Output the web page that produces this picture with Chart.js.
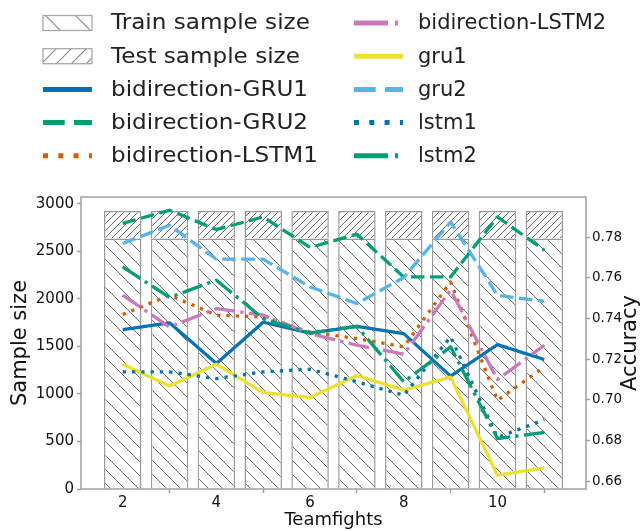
<!DOCTYPE html>
<html><head><meta charset="utf-8">
<script src="https://cdn.jsdelivr.net/npm/chart.js@4/dist/chart.umd.min.js"></script>
<style>html,body{margin:0;padding:0;background:#fff;}canvas{display:block;}</style>
</head><body>
<canvas id="c" width="642" height="531"></canvas>
<script>
// ---- data ----
const teamfights = [2, 3, 4, 5, 6, 7, 8, 9, 10, 11];
const trainSampleSize = [2634, 2634, 2634, 2634, 2634, 2634, 2634, 2634, 2634, 2634];
const testSampleSize = [290, 290, 290, 290, 290, 290, 290, 290, 290, 290];
const biGRU1 = [0.7346, 0.7379, 0.7179, 0.7382, 0.7329, 0.7362, 0.7326, 0.7117, 0.7272, 0.7199];
const biGRU2 = [0.7868, 0.7933, 0.7838, 0.7900, 0.7750, 0.7815, 0.7605, 0.7605, 0.7900, 0.7736];
const biLSTM1 = [0.7420, 0.7515, 0.7417, 0.7408, 0.7334, 0.7302, 0.7261, 0.7580, 0.6998, 0.7162];
const biLSTM2 = [0.7515, 0.7359, 0.7449, 0.7417, 0.7326, 0.7269, 0.7225, 0.7540, 0.7100, 0.7269];
const gru1 = [0.7176, 0.7069, 0.7176, 0.7036, 0.7012, 0.7120, 0.7048, 0.7112, 0.6630, 0.6666];
const gru2 = [0.7769, 0.7859, 0.7692, 0.7692, 0.7556, 0.7474, 0.7602, 0.7875, 0.7515, 0.7485];
const lstm1 = [0.7138, 0.7138, 0.7105, 0.7138, 0.7151, 0.7089, 0.7023, 0.7310, 0.6815, 0.6903];
const lstm2 = [0.7654, 0.7504, 0.7589, 0.7400, 0.7329, 0.7362, 0.7089, 0.7261, 0.6810, 0.6840];
const sampleTicks = [0, 500, 1000, 1500, 2000, 2500, 3000];
const accuracyTicks = [0.66, 0.68, 0.70, 0.72, 0.74, 0.76, 0.78];
const xTicks = [2, 4, 6, 8, 10];

// ---- styles ----
const FONT = "'DejaVu Sans', sans-serif";
const plotDash = {solid: [], dashed: [13.5, 5.5], dotted: [3.3, 6], dashdot: [21, 5.3, 3.3, 5.3]};
const legendDash = {solid: [], dashed: [21.7, 9.3], dotted: [5, 10.3], dashdot: [34, 7, 3, 7]};
const series = [
  {label: 'bidirection-GRU1', data: biGRU1, color: '#0173B2', dash: 'solid'},
  {label: 'bidirection-GRU2', data: biGRU2, color: '#029E73', dash: 'dashed'},
  {label: 'bidirection-LSTM1', data: biLSTM1, color: '#D55E00', dash: 'dotted'},
  {label: 'bidirection-LSTM2', data: biLSTM2, color: '#CC78BC', dash: 'dashdot'},
  {label: 'gru1', data: gru1, color: '#ECE133', dash: 'solid'},
  {label: 'gru2', data: gru2, color: '#56B4E9', dash: 'dashed'},
  {label: 'lstm1', data: lstm1, color: '#0173B2', dash: 'dotted'},
  {label: 'lstm2', data: lstm2, color: '#029E73', dash: 'dashdot'}
];

const ctx = document.getElementById('c').getContext('2d');
function hatch(size, dir, color, lw) {
  const c = document.createElement('canvas');
  c.width = size; c.height = size;
  const g = c.getContext('2d');
  g.fillStyle = '#fff'; g.fillRect(0, 0, size, size);
  g.strokeStyle = color; g.lineWidth = lw;
  g.beginPath();
  for (let k = -1; k <= 1; k++) {
    if (dir === 'back') { g.moveTo(k * size, 0); g.lineTo(k * size + size, size); }
    else { g.moveTo(k * size, size); g.lineTo(k * size + size, 0); }
  }
  g.stroke();
  return ctx.createPattern(c, 'repeat');
}
const trainPattern = hatch(14, 'back', '#6a6a6a', 1);
const testPattern = hatch(7, 'fwd', '#6a6a6a', 1);
const trainLegendPattern = hatch(30, 'back', '#8a8a8a', 1.2);
const testLegendPattern = hatch(15, 'fwd', '#8a8a8a', 1.2);

const datasets = [
  {type: 'bar', label: 'Train sample size', data: teamfights.map((x, i) => ({x, y: trainSampleSize[i]})),
   backgroundColor: trainPattern, borderColor: '#9a9a9a', borderWidth: 1.5, yAxisID: 'y', stack: 's', order: 100,
   legendPattern: trainLegendPattern},
  {type: 'bar', label: 'Test sample size', data: teamfights.map((x, i) => ({x, y: testSampleSize[i]})),
   backgroundColor: testPattern, borderColor: '#9a9a9a', borderWidth: 1.5, yAxisID: 'y', stack: 's', order: 101,
   legendPattern: testLegendPattern}
];
series.forEach((s, i) => {
  datasets.push({
    type: 'line', label: s.label, data: teamfights.map((x, j) => ({x, y: s.data[j]})),
    borderColor: s.color, backgroundColor: s.color, borderWidth: 3.3, borderDash: plotDash[s.dash],
    borderJoinStyle: 'round', pointRadius: 0, tension: 0, fill: false, yAxisID: 'y1', order: 50 - i,
    dashType: s.dash
  });
});

const legendPlugin = {
  id: 'mplLegend',
  afterDraw(chart) {
    const c = chart.ctx;
    const ds = chart.data.datasets;
    const rowY0 = 23, rowH = 33.2;
    const cols = [{h0: 43, h1: 92, tx: 111, sx: 1.1}, {h0: 354, h1: 403, tx: 418, sx: 1.0}];
    c.save();
    ds.forEach((d, i) => {
      const col = cols[Math.floor(i / 5)];
      const y = rowY0 + (i % 5) * rowH;
      if (d.type === 'bar') {
        c.fillStyle = d.legendPattern;
        c.fillRect(col.h0, y - 7.5, col.h1 - col.h0, 15);
        c.strokeStyle = '#a8a8a8'; c.lineWidth = 1.3; c.setLineDash([]);
        c.strokeRect(col.h0, y - 7.5, col.h1 - col.h0, 15);
      } else {
        c.strokeStyle = d.borderColor; c.lineWidth = 5; c.lineCap = 'butt';
        c.setLineDash(legendDash[d.dashType]);
        c.beginPath(); c.moveTo(col.h0, y); c.lineTo(col.h1, y); c.stroke();
      }
      c.setLineDash([]);
      c.save();
      c.translate(col.tx, y + 1); c.scale(col.sx, 1);
      c.fillStyle = '#222'; c.font = '21px ' + FONT;
      c.textAlign = 'left'; c.textBaseline = 'middle';
      c.fillText(d.label, 0, 0);
      c.restore();
    });
    // right axis title
    c.translate(631, 343); c.rotate(-Math.PI / 2);
    c.fillStyle = '#111'; c.font = '21px ' + FONT; c.textAlign = 'center'; c.textBaseline = 'middle';
    c.fillText('Accuracy', 0, 0);
    c.restore();
  },
  afterDatasetsDraw(chart) {
    const a = chart.chartArea, c = chart.ctx;
    c.save();
    c.strokeStyle = '#a0a0a0'; c.lineWidth = 1.5; c.setLineDash([]);
    c.strokeRect(a.left, a.top, a.right - a.left, a.bottom - a.top);
    c.restore();
  }
};

const tickFont = {family: FONT, size: 15};
new Chart(ctx, {
  type: 'bar',
  data: {datasets},
  plugins: [legendPlugin],
  options: {
    responsive: false, animation: false, devicePixelRatio: 1,
    layout: {padding: {top: 197, left: 0, right: 0, bottom: 0}},
    plugins: {legend: {display: false}, tooltip: {enabled: false}},
    datasets: {bar: {categoryPercentage: 0.8, barPercentage: 1.0, grouped: true}},
    scales: {
      x: {
        type: 'linear', min: 1.11, max: 11.89, stacked: true, offset: false,
        afterBuildTicks: s => { s.ticks = xTicks.map(v => ({value: v})); },
        afterFit: s => { s.height = 42; },
        ticks: {font: tickFont, color: '#111', padding: 1, autoSkip: false, maxRotation: 0, callback: v => String(v)},
        grid: {drawOnChartArea: false, drawTicks: true, tickLength: 4, tickColor: '#a0a0a0', tickWidth: 1.5},
        border: {display: false},
        title: {display: true, text: 'Teamfights', font: {family: FONT, size: 18}, color: '#111', padding: {top: 0, bottom: 0}}
      },
      y: {
        type: 'linear', position: 'left', min: 0, max: 3070, stacked: true,
        afterBuildTicks: s => { s.ticks = sampleTicks.map(v => ({value: v})); },
        afterFit: s => { s.width = 81; },
        ticks: {font: tickFont, color: '#111', padding: 3, autoSkip: false, callback: v => String(v)},
        grid: {drawOnChartArea: false, drawTicks: true, tickLength: 4, tickColor: '#a0a0a0', tickWidth: 1.5},
        border: {display: false},
        title: {display: true, text: 'Sample size', font: {family: FONT, size: 21}, color: '#111', padding: {top: 8, bottom: 0}}
      },
      y1: {
        type: 'linear', position: 'right', min: 0.6562, max: 0.7998,
        afterBuildTicks: s => { s.ticks = accuracyTicks.map(v => ({value: v})); },
        afterFit: s => { s.width = 56; },
        ticks: {font: {family: FONT, size: 13.5}, color: '#111', padding: 2, autoSkip: false, callback: v => v.toFixed(2)},
        grid: {drawOnChartArea: false, drawTicks: true, tickLength: 4, tickColor: '#a0a0a0', tickWidth: 1.5},
        border: {display: false}
      }
    }
  }
});
</script>
</body></html>
